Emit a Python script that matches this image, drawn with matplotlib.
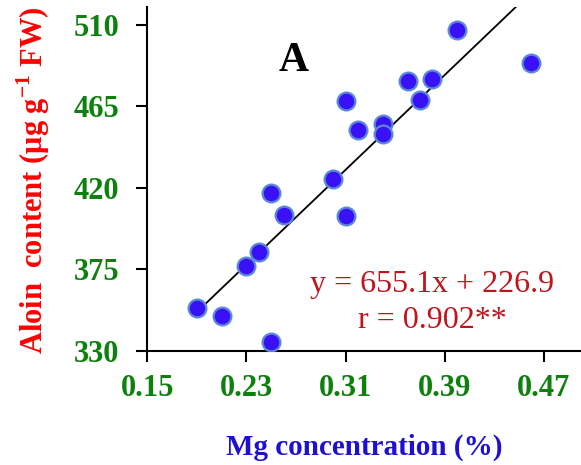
import numpy as np
import matplotlib.pyplot as plt

# Mg concentration (%) vs aloin content
mg = [0.40, 0.46, 0.36, 0.38, 0.37, 0.31, 0.34, 0.34, 0.32, 0.30,
      0.25, 0.26, 0.31, 0.24, 0.23, 0.19, 0.21, 0.25]
aloin = [507.4, 489.0, 478.9, 480.2, 468.8, 468.3, 455.4, 449.9, 452.1, 425.1,
         417.1, 405.2, 404.4, 384.3, 376.7, 353.7, 349.1, 335.0]
slope, intercept = 655.1, 226.9
x_ticks = [0.15, 0.23, 0.31, 0.39, 0.47]
y_ticks = [330, 375, 420, 465, 510]

plt.rcParams['font.family'] = ['Liberation Serif', 'DejaVu Serif']
plt.rcParams['mathtext.fontset'] = 'custom'
plt.rcParams['mathtext.rm'] = 'Liberation Serif'
plt.rcParams['mathtext.bf'] = 'Liberation Serif:bold'

fig = plt.figure(figsize=(5.81, 4.65), dpi=100)
ax = fig.add_axes([0.2535, 0.2458, 0.7465, 0.7392])

# regression line
xl = np.array([0.19, 0.47])
ax.plot(xl, slope * xl + intercept, color='black', lw=1.3, zorder=2)

ax.plot(mg, aloin, 'o', ms=12.8, mfc='#3a10f4', mec='#5a8ad6', mew=1.6,
        ls='none', zorder=3)

ax.set_xlim(0.15, 0.50)
ax.set_ylim(330, 520)
ax.set_xticks(x_ticks)
ax.set_yticks(y_ticks)
ax.set_xticklabels([f'{v:.2f}' for v in x_ticks])
ax.set_yticklabels([str(v) for v in y_ticks])

for s in ['top', 'right']:
    ax.spines[s].set_visible(False)
for s in ['left', 'bottom']:
    ax.spines[s].set_linewidth(1.5)

ax.tick_params(axis='both', direction='out', length=8, width=1.5,
               labelsize=22, labelcolor='#0e800e')
ax.tick_params(axis='x', pad=9)
ax.tick_params(axis='y', pad=12)
for lab in ax.get_xticklabels() + ax.get_yticklabels():
    lab.set_fontweight('bold')

ax.set_xlabel('Mg concentration (%)', fontsize=21, fontweight='bold',
              color='#1e0fd4', labelpad=22)
fig.text(0.057, 0.612, 'Aloin  content (\u03bcg g$^{\\mathbf{-1}}$ FW)',
         rotation=90, ha='center', va='center', fontsize=22,
         fontweight='bold', color='#ff0000')

ax.text(0.268, 490, 'A', fontsize=30, fontweight='bold',
        ha='center', va='center')
ax.text(0.380, 366.5, 'y = 655.1x + 226.9', fontsize=23, color='#c0141c',
        ha='center', va='center')
ax.text(0.380, 346.8, 'r = 0.902**', fontsize=23, color='#c0141c',
        ha='center', va='center')

fig.savefig('out.png', dpi=100)
